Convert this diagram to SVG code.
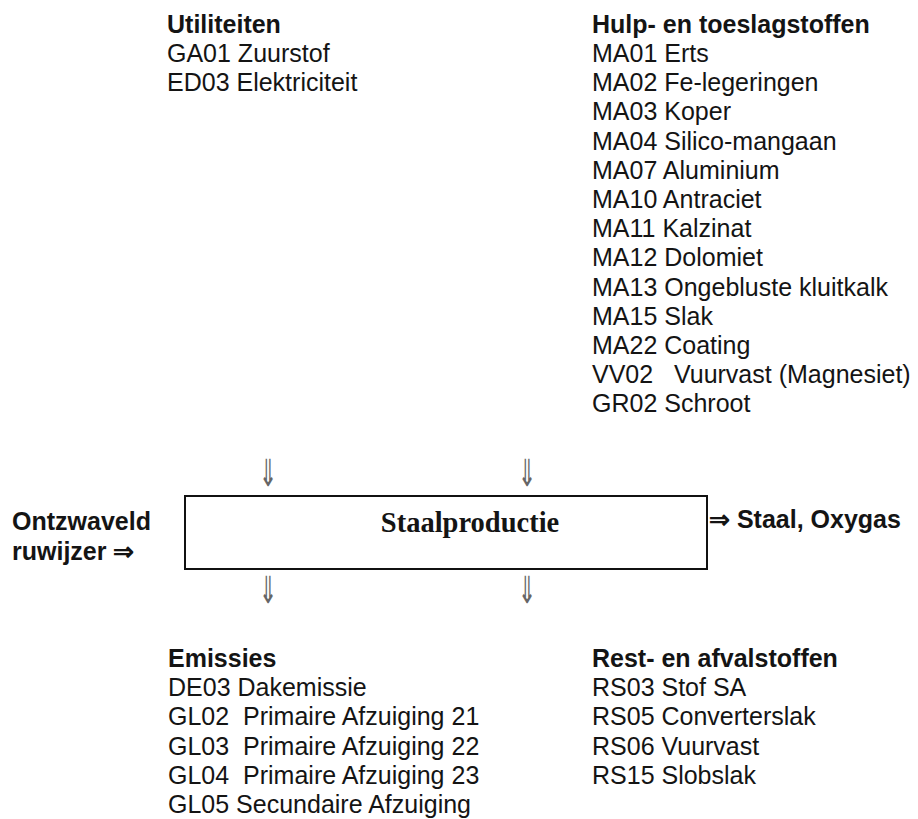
<svg xmlns="http://www.w3.org/2000/svg" width="918" height="819" viewBox="0 0 918 819">
<style>
  text { font-family: "Liberation Sans", Arial, sans-serif; font-size: 25px; fill: #141414; white-space: pre; }
  .h { font-weight: bold; }
  .serif { font-family: "Liberation Serif", "Times New Roman", serif; font-weight: bold; font-size: 28.5px; }
  .arr { font-family: "DejaVu Sans", sans-serif; font-size: 22px; fill: #666; }
  .box { fill: #fff; stroke: #111; stroke-width: 2; }
</style>
<rect width="918" height="819" fill="#fff"/>

<g id="utiliteiten">
  <text class="h" x="167" y="33">Utiliteiten</text>
  <text x="167" y="62">GA01 Zuurstof</text>
  <text x="167" y="91">ED03 Elektriciteit</text>
</g>

<g id="hulpstoffen">
  <text class="h" x="592" y="33">Hulp- en toeslagstoffen</text>
  <text x="592" y="62">MA01 Erts</text>
  <text x="592" y="91">MA02 Fe-legeringen</text>
  <text x="592" y="120">MA03 Koper</text>
  <text x="592" y="150">MA04 Silico-mangaan</text>
  <text x="592" y="179">MA07 Aluminium</text>
  <text x="592" y="208">MA10 Antraciet</text>
  <text x="592" y="237">MA11 Kalzinat</text>
  <text x="592" y="266">MA12 Dolomiet</text>
  <text x="592" y="296">MA13 Ongebluste kluitkalk</text>
  <text x="592" y="325">MA15 Slak</text>
  <text x="592" y="354">MA22 Coating</text>
  <text x="592" y="383" xml:space="preserve">VV02   Vuurvast (Magnesiet)</text>
  <text x="592" y="412">GR02 Schroot</text>
</g>

<g id="staalproductie">
  <rect class="box" x="185" y="496" width="522" height="73"/>
  <text class="serif" x="470" y="532" text-anchor="middle">Staalproductie</text>
</g>

<g id="ruwijzer">
  <text class="h" x="12" y="530">Ontzwaveld</text>
  <text class="h" x="12" y="560">ruwijzer ⇒</text>
</g>

<g id="staal">
  <text class="h" x="709" y="528">⇒ Staal, Oxygas</text>
</g>

<g id="connectors">
  <text class="arr" transform="translate(268,486) scale(1,1.7)" text-anchor="middle">⇓</text>
  <text class="arr" transform="translate(527,486) scale(1,1.7)" text-anchor="middle">⇓</text>
  <text class="arr" transform="translate(268,603) scale(1,1.7)" text-anchor="middle">⇓</text>
  <text class="arr" transform="translate(527,603) scale(1,1.7)" text-anchor="middle">⇓</text>
</g>

<g id="emissies">
  <text class="h" x="168" y="667">Emissies</text>
  <text x="168" y="696">DE03 Dakemissie</text>
  <text x="168" y="725" xml:space="preserve">GL02  Primaire Afzuiging 21</text>
  <text x="168" y="755" xml:space="preserve">GL03  Primaire Afzuiging 22</text>
  <text x="168" y="784" xml:space="preserve">GL04  Primaire Afzuiging 23</text>
  <text x="168" y="813">GL05 Secundaire Afzuiging</text>
</g>

<g id="reststoffen">
  <text class="h" x="592" y="667">Rest- en afvalstoffen</text>
  <text x="592" y="696">RS03 Stof SA</text>
  <text x="592" y="725">RS05 Converterslak</text>
  <text x="592" y="755">RS06 Vuurvast</text>
  <text x="592" y="784">RS15 Slobslak</text>
</g>
</svg>
